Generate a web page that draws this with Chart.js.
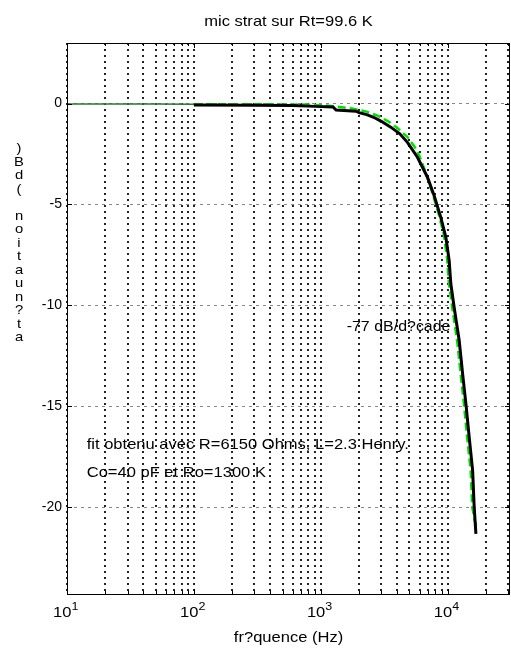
<!DOCTYPE html>
<html>
<head>
<meta charset="utf-8">
<script src="https://cdn.jsdelivr.net/npm/chart.js@4/dist/chart.umd.min.js"></script>
<style>
  html, body { margin: 0; padding: 0; background: #fff; }
  #wrap { width: 511px; height: 650px; position: relative; }
</style>
</head>
<body>
<div id="wrap"><canvas id="c" width="511" height="650"></canvas></div>
<script>
// Measured response of the microphone (Hz, dB)
const freqMeasured = [100, 300, 600, 900, 1250, 1320, 1900, 2000, 2300, 2610, 3000, 3560, 4200, 4820,
  5780, 6930, 7820, 8830, 9680, 10280, 10590, 11250, 12330, 13120, 13930, 14790, 15740, 16190, 16700];
const gainMeasured = [-0.07, -0.08, -0.1, -0.14, -0.17, -0.32, -0.38, -0.45, -0.55, -0.68, -0.88, -1.17, -1.5, -1.92,
  -2.66, -3.65, -4.56, -5.64, -6.63, -7.78, -8.93, -10.09, -11.74, -13.39, -14.88, -16.54, -18.19, -20.0, -21.32];

// Fitted model response (Hz, dB)
const freqFit = [10, 20, 50, 100, 200, 400, 700, 1000, 1300, 1800, 2300, 2800, 3400, 4000, 4800, 5500,
  6000, 6700, 7550, 8520, 9340, 9920, 10220, 10860, 11900, 12660, 13440, 14270, 15190, 15620, 16400, 16900];
const gainFit = [-0.02, -0.02, -0.02, -0.03, -0.03, -0.04, -0.05, -0.08, -0.14, -0.26, -0.4, -0.6, -0.88, -1.2, -1.65, -2.15,
  -2.6, -3.4, -4.4, -5.5, -6.5, -7.7, -8.9, -10.1, -11.8, -13.4, -14.9, -16.6, -18.2, -20.0, -20.7, -21.0];

// Axis ticks
const xTickValues = [10, 20, 30, 40, 50, 60, 70, 80, 90, 100, 200, 300, 400, 500, 600, 700, 800, 900,
  1000, 2000, 3000, 4000, 5000, 6000, 7000, 8000, 9000, 10000, 20000, 30000];
const xDecadeExponents = { 10: '1', 100: '2', 1000: '3', 10000: '4' };
const yTickValues = [-20, -15, -10, -5, 0];

// Texts
const titleText = 'mic strat sur Rt=99.6 K';
const xTitleText = 'fr?quence (Hz)';
const yTitleText = 'at?nuation (dB)';
const slopeNote = { text: '-77 dB/d?cade', x: 1600, y: -11.25 };
const fitNotes = [
  { text: 'fit obtenu avec R=6150 Ohms, L=2.3 Henry.', x: 14.3, y: -17.1 },
  { text: 'Co=40 pF et Ro=1300 K', x: 14.3, y: -18.5 }
];

const FONT = "'Liberation Sans', Arial, sans-serif";
const STRETCH = 1.14;

function stretchedText(ctx, text, x, y, size, align) {
  ctx.save();
  ctx.font = size + 'px ' + FONT;
  ctx.textBaseline = 'alphabetic';
  ctx.fillStyle = '#000';
  const w = ctx.measureText(text).width * STRETCH;
  const left = align === 'center' ? x - w / 2 : (align === 'right' ? x - w : x);
  ctx.translate(left, y);
  ctx.scale(STRETCH, 1);
  ctx.textAlign = 'left';
  ctx.fillText(text, 0, 0);
  ctx.restore();
  return w;
}

const decorations = {
  id: 'decorations',
  afterDatasetsDraw(chart) {
    const { ctx, chartArea: a, scales: { x, y } } = chart;
    ctx.save();
    // inner tick marks
    ctx.strokeStyle = '#000';
    ctx.lineWidth = 1;
    ctx.beginPath();
    xTickValues.forEach(v => {
      const px = Math.round(x.getPixelForValue(v)) + 0.5;
      const len = xDecadeExponents[v] ? 5 : 3;
      ctx.moveTo(px, a.bottom); ctx.lineTo(px, a.bottom - len);
      ctx.moveTo(px, a.top); ctx.lineTo(px, a.top + len);
    });
    yTickValues.forEach(v => {
      const py = Math.round(y.getPixelForValue(v)) + 0.5;
      ctx.moveTo(a.left, py); ctx.lineTo(a.left + 5, py);
      ctx.moveTo(a.right, py); ctx.lineTo(a.right - 5, py);
    });
    ctx.stroke();
    // axes box
    ctx.strokeRect(Math.round(a.left) + 0.5, Math.round(a.top) + 0.5,
      Math.round(a.right - a.left) - 1, Math.round(a.bottom - a.top));
    ctx.restore();

    // decade labels 10^n under the x axis
    xTickValues.forEach(v => {
      const e = xDecadeExponents[v];
      if (!e) return;
      const px = x.getPixelForValue(v);
      stretchedText(ctx, '10', px + 4.5, a.bottom + 23, 14.5, 'right');
      stretchedText(ctx, e, px + 4.5, a.bottom + 16, 11, 'left');
    });

    // annotations
    stretchedText(ctx, slopeNote.text, x.getPixelForValue(slopeNote.x), y.getPixelForValue(slopeNote.y), 14, 'left');
    fitNotes.forEach(n => stretchedText(ctx, n.text, x.getPixelForValue(n.x), y.getPixelForValue(n.y), 14.5, 'left'));

    // title and x-axis title
    const cx = (a.left + a.right) / 2;
    stretchedText(ctx, titleText, cx, 26, 14.5, 'center');
    stretchedText(ctx, xTitleText, cx, 642, 14.5, 'center');

    // y-axis title, glyphs stacked upward
    ctx.save();
    ctx.font = '13px ' + FONT;
    ctx.fillStyle = '#000';
    ctx.textAlign = 'center';
    ctx.textBaseline = 'middle';
    [...yTitleText].forEach((ch, i) => {
      ctx.save();
      ctx.translate(19, 337.5 - i * 13.5);
      ctx.scale(STRETCH, 1);
      ctx.fillText(ch, 0, 0);
      ctx.restore();
    });
    ctx.restore();
  }
};

const toPoints = (xs, ys) => xs.map((v, i) => ({ x: v, y: ys[i] }));

new Chart(document.getElementById('c'), {
  type: 'line',
  data: {
    datasets: [
      {
        label: 'mesure',
        data: toPoints(freqMeasured, gainMeasured),
        borderColor: '#000',
        borderWidth: 3,
        pointRadius: 0,
        tension: 0,
        order: 1
      },
      {
        label: 'fit',
        data: toPoints(freqFit, gainFit),
        borderColor: '#00e000',
        borderWidth: 2.5,
        borderDash: [8, 4],
        pointRadius: 0,
        tension: 0,
        order: 2,
        segment: {
          borderColor: c => c.p1.parsed.x <= 100 ? '#2d7a2d' : '#00e000',
          borderWidth: c => c.p1.parsed.x <= 100 ? 1.5 : 2.5,
          borderDash: c => c.p1.parsed.x <= 100 ? [] : [8, 4]
        }
      }
    ]
  },
  options: {
    responsive: false,
    animation: false,
    devicePixelRatio: 1,
    layout: { padding: { top: 43, right: 1, left: 0, bottom: 0 } },
    plugins: { legend: { display: false }, tooltip: { enabled: false }, title: { display: false } },
    scales: {
      x: {
        type: 'logarithmic',
        min: 10,
        max: 31000,
        afterBuildTicks: s => { s.ticks = xTickValues.map(v => ({ value: v })); },
        afterFit: s => { s.height = 56; s.paddingLeft = 0; s.paddingRight = 0; },
        grid: { color: '#222', lineWidth: 2, drawTicks: false },
        border: { display: false, dash: [2, 4] },
        ticks: {
          autoSkip: false,
          maxRotation: 0,
          display: false
        }
      },
      y: {
        type: 'linear',
        min: -24.3,
        max: 3,
        afterBuildTicks: s => { s.ticks = yTickValues.map(v => ({ value: v })); },
        afterFit: s => { s.width = 67; },
        grid: { color: '#888', lineWidth: 1, drawTicks: false },
        border: { display: false, dash: [3, 4] },
        ticks: {
          padding: 5,
          color: '#000',
          font: { family: FONT, size: 14 },
          callback: v => String(v)
        }
      }
    }
  },
  plugins: [decorations]
});
</script>
</body>
</html>
